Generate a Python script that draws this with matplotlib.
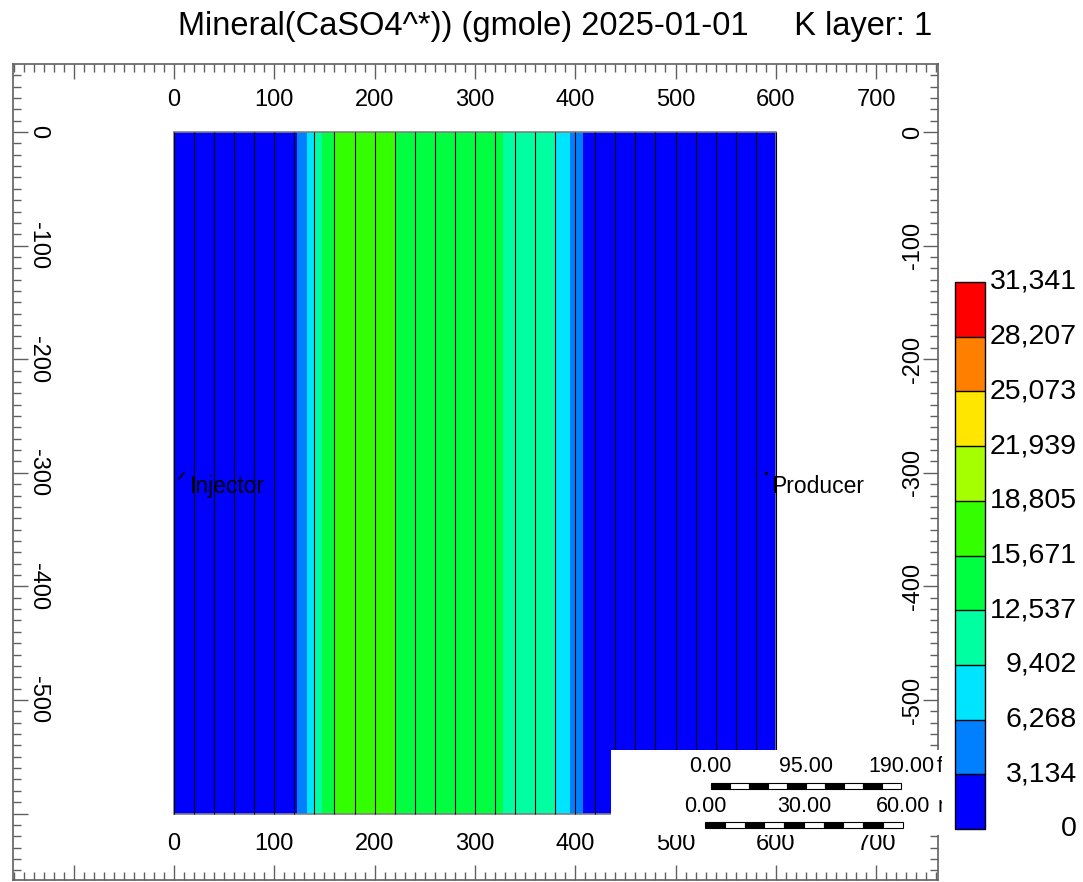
import numpy as np
import matplotlib
matplotlib.use("Agg")
import matplotlib.pyplot as plt
from matplotlib.colors import ListedColormap, BoundaryNorm
from matplotlib.cm import ScalarMappable
from matplotlib.patches import Rectangle
from matplotlib.ticker import FixedLocator, MultipleLocator, FuncFormatter

plt.rcParams["font.family"] = ["Liberation Sans", "DejaVu Sans"]

# --------------------------------------------------
# data
# --------------------------------------------------
title_left = "Mineral(CaSO4^*)) (gmole) 2025-01-01"
title_right = "K layer: 1"

# grid cell edges along I (ft), single row from 0 to -600 ft
cell_edges = np.arange(0, 620, 20)
grid_top, grid_bottom = 0, -600

# cell values (gmole) for each of the 30 columns
cell_values = [
    150, 150, 150, 150, 150, 200,
    4890, 13780, 17500, 17800, 16500, 14850,
    14500, 14300, 14000, 13500, 12410, 12100,
    11920, 7300, 2670, 500, 150, 150,
    150, 150, 150, 150, 150, 150,
]

levels = [0, 3134, 6268, 9402, 12537, 15671, 18805, 21939, 25073, 28207, 31341]
level_colors = [
    "#0000ff", "#0080ff", "#00e5ff", "#00ffa0", "#00ff40",
    "#33ff00", "#a6ff00", "#ffe600", "#ff7f00", "#ff0000",
]

well_names = ["Injector", "Producer"]
well_x = [10, 590]
well_y = [-300, -300]

scale_ft = [0, 95, 190]
scale_m = [0, 30, 60]
FT_PER_M = 3.28084

# --------------------------------------------------
# figure + main map axes
# --------------------------------------------------
W, H = 1083, 882
fig = plt.figure(figsize=(W / 100, H / 100), dpi=100)
ax = fig.add_axes([13 / W, 2 / H, 925 / W, 816 / H])
ax.set_xlim(-160.5, 761.7)
ax.set_ylim(-658.5, 59.9)

centers = 0.5 * (cell_edges[:-1] + cell_edges[1:])
xs = np.concatenate([[cell_edges[0]], centers, [cell_edges[-1]]])
vals = np.concatenate([[cell_values[0]], cell_values, [cell_values[-1]]])
X, Y = np.meshgrid(xs, [grid_bottom, grid_top])
Z = np.vstack([vals, vals])
ax.contourf(X, Y, Z, levels=levels, colors=level_colors)

ax.vlines(cell_edges, grid_bottom, grid_top, colors="black", lw=0.8)
ax.add_patch(Rectangle((cell_edges[0], grid_bottom), cell_edges[-1] - cell_edges[0],
                       grid_top - grid_bottom, fill=False, ec="#808080", lw=1.2))

# wells
for name, wx, wy in zip(well_names, well_x, well_y):
    if name == "Injector":
        ax.plot([wx - 5, wx], [wy - 5, wy], color="black", lw=1.2)
    else:
        ax.plot(wx, wy, "o", color="black", ms=1.5)
    ax.annotate(name, (wx, wy), xytext=(4, -10), textcoords="offset points",
                ha="left", va="center", fontsize=16.5)

# --------------------------------------------------
# ruler-style ticks on all four sides
# --------------------------------------------------
ax.xaxis.set_major_locator(FixedLocator(np.arange(-100, 800, 100)))
ax.xaxis.set_minor_locator(MultipleLocator(10))
ax.yaxis.set_major_locator(FixedLocator(np.arange(-600, 100, 100)))
ax.yaxis.set_minor_locator(MultipleLocator(10))
ax.xaxis.set_major_formatter(FuncFormatter(lambda v, p: f"{int(v)}" if 0 <= v <= 700 else ""))
ax.yaxis.set_major_formatter(FuncFormatter(lambda v, p: f"{int(v)}" if -500 <= v <= 0 else ""))

ax.tick_params(axis="x", which="both", direction="in", top=True, bottom=True,
               labeltop=True, labelbottom=True, pad=-34, labelsize=17, color="#606060")
ax.tick_params(axis="y", which="both", direction="in", left=True, right=True,
               labelleft=True, labelright=True, pad=-26, labelsize=17, color="#606060")
ax.tick_params(which="major", length=11, width=1)
ax.tick_params(which="minor", length=6, width=1)
for s in ax.spines.values():
    s.set_color("#606060")
    s.set_linewidth(1.2)

for t in ax.yaxis.get_major_ticks():
    t.label1.set_rotation(-90)
    t.label1.set_va("center")
    t.label2.set_rotation(90)
    t.label2.set_va("center")

fig.text(555 / W, 1 - 27 / H, f"{title_left}     {title_right}",
         ha="center", va="center", fontsize=23.5)

# --------------------------------------------------
# scale bars (box sits over the lower right corner)
# --------------------------------------------------
px_per_ft = 602 / 600
sb = fig.add_axes([611 / W, (H - 835) / H, 331 / W, 85 / H])
sb.set_xlim((611 - 174) / px_per_ft, (942 - 174) / px_per_ft)
sb.set_ylim(835, 750)
sb.set_facecolor("white")
sb.set_xticks([])
sb.set_yticks([])
for s in sb.spines.values():
    s.set_visible(False)


def draw_bar(x0, length, ticks, unit, text_y, bar_y):
    seg = length / 10
    for i in range(10):
        sb.add_patch(Rectangle((x0 + i * seg, bar_y), seg, 6,
                               fc="black" if i % 2 == 0 else "white",
                               ec="black", lw=0.8))
    for v in ticks:
        sb.text(x0 + length * v / ticks[-1], text_y, f"{v:.2f}", ha="center",
                va="center", fontsize=15.5, clip_on=True)
    sb.text(x0 + length + 35, text_y, unit, ha="left", va="center",
            fontsize=15.5, clip_on=True)


draw_bar(535, scale_ft[-1], scale_ft, "ft", 767, 783)
draw_bar(529.4, scale_m[-1] * FT_PER_M, scale_m, "m", 807, 822)

# --------------------------------------------------
# colour legend
# --------------------------------------------------
cmap = ListedColormap(level_colors)
norm = BoundaryNorm(levels, cmap.N)
cax = fig.add_axes([955 / W, (H - 829) / H, 30 / W, 547 / H])
cb = fig.colorbar(ScalarMappable(norm=norm, cmap=cmap), cax=cax,
                  ticks=levels, drawedges=True)
cb.set_ticklabels([f"{v:,}" for v in levels])
cb.ax.tick_params(length=0, pad=66, labelsize=20.5)
for lbl in cax.get_yticklabels():
    lbl.set_ha("right")
    lbl.set_va("center")
cb.outline.set_edgecolor("black")
cb.outline.set_linewidth(1)
cb.dividers.set_color("black")
cb.dividers.set_linewidth(1)

fig.savefig("out.png", dpi=100)
